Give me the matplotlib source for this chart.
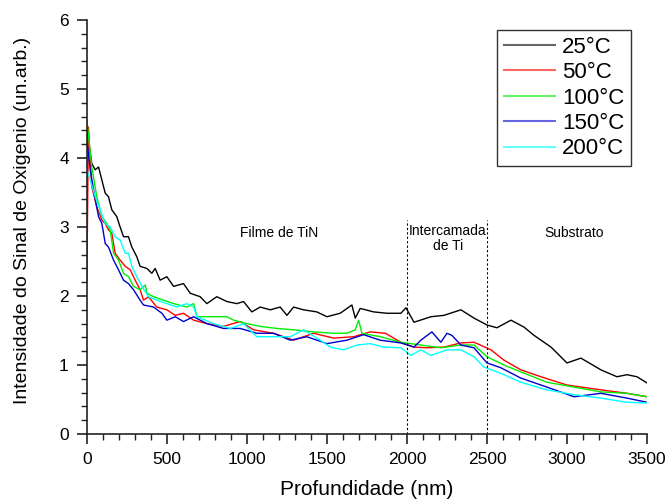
import matplotlib
matplotlib.use("Agg")
import matplotlib.pyplot as plt
from matplotlib.ticker import MultipleLocator

plt.rcParams['font.family'] = ['Liberation Sans', 'DejaVu Sans']

# ---- data ----
x_25 = [0, 31, 52, 73, 94, 115, 135, 156, 187, 208, 229, 260, 281, 312, 333, 375, 406, 427, 458,
        500, 542, 604, 646, 708, 750, 812, 875, 937, 979, 1031, 1083, 1146, 1208, 1250, 1292, 1354,
        1437, 1500, 1583, 1656, 1677, 1708, 1792, 1875, 1962, 1994, 2044, 2150, 2231, 2337, 2419,
        2500, 2562, 2650, 2731, 2794, 2900, 3000, 3087, 3212, 3312, 3375, 3437, 3500]
y_25 = [4.41, 3.92, 3.83, 3.87, 3.68, 3.49, 3.44, 3.25, 3.15, 3.0, 2.86, 2.86, 2.71, 2.57, 2.43, 2.40,
        2.33, 2.40, 2.23, 2.28, 2.14, 2.18, 2.04, 1.99, 1.89, 1.99, 1.92, 1.89, 1.92, 1.77, 1.84, 1.80,
        1.84, 1.72, 1.84, 1.80, 1.77, 1.70, 1.75, 1.87, 1.68, 1.82, 1.77, 1.75, 1.75, 1.83, 1.62, 1.70,
        1.72, 1.80, 1.68, 1.58, 1.54, 1.65, 1.55, 1.43, 1.26, 1.03, 1.10, 0.93, 0.83, 0.86, 0.83, 0.74]

x_50 = [0, 10, 31, 62, 94, 115, 135, 156, 177, 208, 240, 271, 302, 333, 354, 385, 437, 500, 552,
        604, 667, 750, 854, 958, 1042, 1167, 1292, 1417, 1542, 1667, 1771, 1865, 1962, 2044, 2125,
        2231, 2337, 2419, 2525, 2606, 2712, 2837, 3000, 3212, 3375, 3500]
y_50 = [2.2, 4.45, 3.58, 3.29, 3.10, 3.05, 2.96, 2.91, 2.62, 2.52, 2.43, 2.38, 2.23, 2.09, 1.94, 1.99,
        1.84, 1.80, 1.72, 1.75, 1.65, 1.60, 1.56, 1.63, 1.51, 1.46, 1.36, 1.46, 1.39, 1.41, 1.48, 1.46,
        1.33, 1.26, 1.25, 1.26, 1.32, 1.33, 1.22, 1.07, 0.93, 0.83, 0.71, 0.64, 0.59, 0.54]

x_100 = [0, 31, 62, 94, 125, 146, 167, 198, 229, 260, 292, 333, 365, 375, 417, 479, 542, 625, 667,
         688, 771, 833, 875, 917, 1000, 1083, 1188, 1292, 1417, 1542, 1625, 1677, 1698, 1719, 1833,
         1962, 2087, 2212, 2337, 2419, 2500, 2606, 2712, 2875, 3044, 3212, 3375, 3500]
y_100 = [4.55, 3.87, 3.44, 3.15, 3.05, 2.96, 2.62, 2.52, 2.33, 2.28, 2.14, 2.09, 2.16, 2.04, 1.99, 1.94,
         1.89, 1.84, 1.89, 1.70, 1.70, 1.70, 1.70, 1.65, 1.60, 1.56, 1.53, 1.51, 1.48, 1.46, 1.46, 1.51,
         1.65, 1.46, 1.41, 1.33, 1.29, 1.25, 1.29, 1.29, 1.12, 1.00, 0.90, 0.75, 0.68, 0.61, 0.59, 0.54]

x_150 = [0, 21, 42, 73, 94, 115, 135, 167, 198, 229, 260, 292, 333, 354, 417, 469, 500, 552, 604,
         667, 750, 854, 958, 1062, 1167, 1271, 1375, 1500, 1625, 1729, 1833, 1962, 2044, 2087, 2156,
         2212, 2250, 2281, 2337, 2419, 2500, 2587, 2712, 2875, 3044, 3212, 3375, 3500]
y_150 = [4.26, 3.83, 3.54, 3.15, 3.05, 2.76, 2.71, 2.52, 2.38, 2.23, 2.18, 2.09, 1.94, 1.87, 1.84, 1.75,
         1.65, 1.70, 1.63, 1.70, 1.60, 1.53, 1.53, 1.46, 1.46, 1.36, 1.41, 1.31, 1.36, 1.44, 1.36, 1.32,
         1.26, 1.36, 1.48, 1.33, 1.46, 1.43, 1.29, 1.25, 1.03, 0.96, 0.81, 0.68, 0.54, 0.59, 0.52, 0.46]

x_200 = [0, 21, 52, 83, 115, 146, 177, 208, 240, 260, 281, 312, 344, 385, 437, 500, 562, 625, 667,
         688, 792, 896, 979, 1062, 1167, 1271, 1354, 1458, 1521, 1604, 1688, 1771, 1854, 1962, 2025,
         2087, 2150, 2250, 2337, 2419, 2481, 2587, 2712, 2875, 3044, 3212, 3375, 3500]
y_200 = [3.83, 3.68, 3.44, 3.25, 3.05, 3.00, 2.86, 2.81, 2.62, 2.62, 2.43, 2.28, 2.14, 1.99, 1.94, 1.89,
         1.84, 1.89, 1.84, 1.70, 1.60, 1.53, 1.60, 1.41, 1.41, 1.41, 1.51, 1.36, 1.26, 1.22, 1.29, 1.31,
         1.26, 1.25, 1.14, 1.22, 1.14, 1.22, 1.22, 1.12, 0.97, 0.88, 0.75, 0.64, 0.57, 0.52, 0.46, 0.45]

series = [("25°C", x_25, y_25, "black"),
          ("50°C", x_50, y_50, "red"),
          ("100°C", x_100, y_100, "#00ee00"),
          ("150°C", x_150, y_150, "#0000cc"),
          ("200°C", x_200, y_200, "cyan")]

region_bounds = [2000, 2500]
region_top = 3.1
region_labels = ["Filme de TiN", "Intercamada\nde Ti", "Substrato"]
region_label_x = [1200, 2256, 3044]

# ---- figure ----
fig = plt.figure(figsize=(6.68, 5.01), dpi=100)
ax = fig.add_axes([0.130, 0.1337, 0.8386, 0.8263])

for label, xs, ys, c in series:
    ax.plot(xs, ys, color=c, lw=1.0, label=label)

for xb in region_bounds:
    ax.plot([xb, xb], [0, region_top], color='black', lw=0.8, ls=(0, (2, 2)))

ax.text(region_label_x[0], 2.91, region_labels[0], fontsize=10, ha='center', va='center')
ax.text(region_label_x[1], 3.04, region_labels[1], fontsize=10, ha='center', va='top',
        linespacing=1.1)
ax.text(region_label_x[2], 2.91, region_labels[2], fontsize=10, ha='center', va='center')

ax.set_xlim(0, 3500)
ax.set_ylim(0, 6)
ax.spines['top'].set_visible(False)
ax.spines['right'].set_visible(False)
for s in ['left', 'bottom']:
    ax.spines[s].set_linewidth(1.2)
    ax.spines[s].set_color('#222222')
ax.xaxis.set_major_locator(MultipleLocator(500))
ax.xaxis.set_minor_locator(MultipleLocator(100))
ax.yaxis.set_major_locator(MultipleLocator(1))
ax.yaxis.set_minor_locator(MultipleLocator(0.2))
ax.tick_params(which='major', direction='out', length=7, width=1.2, labelsize=12.5, colors='#222222',
               labelcolor='black', pad=6)
ax.tick_params(which='minor', direction='out', length=4, width=1.0, colors='#222222')

ax.set_xlabel("Profundidade (nm)", fontsize=15)
ax.xaxis.set_label_coords(0.5, -0.112)
ax.set_ylabel("Intensidade do Sinal de Oxigenio (un.arb.)", fontsize=14)
ax.yaxis.set_label_coords(-0.100, 0.517)

leg = ax.legend(loc='upper right', bbox_to_anchor=(0.971, 0.976), fontsize=16, frameon=True,
                fancybox=False, edgecolor='black', handlelength=2.3, handletextpad=0.3,
                borderpad=0.3, labelspacing=0.2, borderaxespad=0)
leg.get_frame().set_linewidth(1.0)
for h in leg.get_lines():
    h.set_linewidth(1.5)
    h.set_alpha(0.6)

fig.savefig("out.png", dpi=100)
